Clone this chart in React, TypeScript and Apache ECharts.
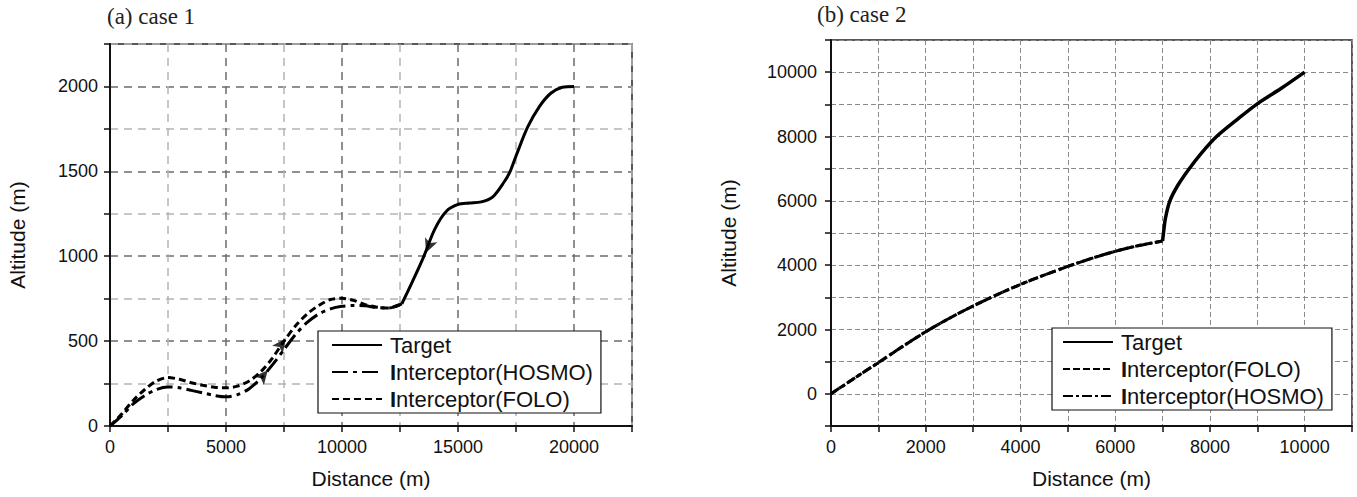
import React, { useEffect, useRef } from 'react';
import * as echarts from 'echarts';

// ---------- Data: (a) case 1 ----------
const targetA: number[][] = [
  [12580, 720], [13000, 840], [13500, 990], [14000, 1160], [14500, 1265], [15000, 1305],
  [15500, 1313], [16000, 1320], [16500, 1350], [17000, 1440], [17250, 1500], [17500, 1590],
  [18000, 1760], [18500, 1880], [19000, 1960], [19500, 1995], [20000, 2000],
];
const hosmoA: number[][] = [
  [0, 0], [500, 60], [1000, 130], [1500, 180], [2000, 215], [2500, 230], [3000, 225],
  [3500, 210], [4000, 195], [4500, 180], [5000, 172], [5500, 185], [6000, 220], [6500, 280],
  [7000, 360], [7500, 450], [8000, 540], [8500, 610], [9000, 660], [9500, 690], [10000, 705],
  [10500, 710], [11000, 708], [11500, 698], [12000, 695], [12580, 720],
];
const foloA: number[][] = [
  [0, 0], [500, 70], [1000, 150], [1500, 215], [2000, 265], [2500, 285], [3000, 275],
  [3500, 255], [4000, 240], [4500, 228], [5000, 225], [5500, 235], [6000, 265], [6500, 320],
  [7000, 400], [7500, 500], [8000, 590], [8500, 660], [9000, 710], [9500, 745], [10000, 752],
  [10500, 740], [11000, 715], [11500, 700], [12000, 695], [12580, 720],
];
// arrow heads: [x, y, rotation (deg, ccw)]
const arrowsA: number[][] = [
  [13620, 1020, 158],
  [6800, 328, -40],
  [7580, 515, -37],
];

// ---------- Data: (b) case 2 ----------
const targetB: number[][] = [
  [7000, 4750], [7020, 5000], [7060, 5450], [7155, 6000], [7330, 6500], [7563, 7000],
  [7830, 7500], [8141, 8000], [8560, 8510], [8986, 9000], [9500, 9490], [10000, 10000],
];
const foloB: number[][] = [
  [0, 0], [500, 490], [1000, 970], [1500, 1460], [2000, 1930], [2500, 2350], [3000, 2730],
  [3500, 3080], [4000, 3400], [4500, 3690], [5000, 3960], [5500, 4210], [6000, 4430],
  [6500, 4610], [7000, 4750],
];
const hosmoB: number[][] = [
  [0, 0], [500, 490], [1000, 970], [1500, 1460], [2000, 1930], [2500, 2350], [3000, 2730],
  [3500, 3080], [4000, 3400], [4500, 3690], [5000, 3960], [5500, 4210], [6000, 4430],
  [6500, 4610], [7000, 4750],
];

const legendA = ['a:Target', 'a:Interceptor(HOSMO)', 'a:Interceptor(FOLO)'];
const legendB = ['b:Target', 'b:Interceptor(FOLO)', 'b:Interceptor(HOSMO)'];

const SANS = "'Liberation Sans', Arial, sans-serif";
const SERIF = "'Liberation Serif', 'Times New Roman', serif";
const INK = '#111';

function legendFormatter(name: string) {
  const n = name.slice(2);
  if (n.startsWith('Interceptor')) return '{b|I}{n|' + n.slice(1) + '}';
  return '{n|' + n + '}';
}

const legendText = {
  fontSize: 22,
  fontFamily: SANS,
  color: INK,
  lineHeight: 24,
  padding: [0, 0, 0, 3],
  rich: {
    b: { fontSize: 22, fontFamily: SANS, color: INK, fontWeight: 'bold', lineHeight: 24 },
    n: { fontSize: 22, fontFamily: SANS, color: INK, lineHeight: 24 },
  },
};

function line(name: string, data: number[][], idx: number, type: any, width = 3) {
  return {
    type: 'line',
    name,
    xAxisIndex: idx,
    yAxisIndex: idx,
    data,
    symbol: 'none',
    showSymbol: false,
    smooth: 0.3,
    silent: true,
    lineStyle: { color: '#000', width, type },
    itemStyle: { color: '#000' },
    z: 3,
  };
}

const axisLineStyle = { show: true, onZero: false, lineStyle: { color: INK, width: 2 } };
const tickStyle = { show: true, inside: false, length: 6, lineStyle: { color: INK, width: 1.5 } };

const legendBase = {
  orient: 'vertical',
  itemWidth: 50, itemHeight: 14, itemGap: 3,
  borderColor: INK, borderWidth: 1.2, backgroundColor: '#fff',
  selectedMode: false, formatter: legendFormatter, textStyle: legendText,
  itemStyle: { color: 'rgba(0,0,0,0)', borderColor: 'rgba(0,0,0,0)', borderWidth: 0, opacity: 0 },
};

function buildOption(): any {
  return {
    animation: false,
    backgroundColor: '#fff',
    title: [
      { text: '(a) case 1', left: 107, top: 5, padding: 0, textStyle: { fontFamily: SERIF, fontSize: 23, fontWeight: 'normal', color: '#222' } },
      { text: '(b) case 2', left: 817, top: 3, padding: 0, textStyle: { fontFamily: SERIF, fontSize: 23, fontWeight: 'normal', color: '#222' } },
    ],
    grid: [
      { left: 110, top: 44, width: 522, height: 382, show: true, borderColor: '#222', borderWidth: 1.5, backgroundColor: 'transparent', containLabel: false, outerBoundsMode: 'none' },
      { left: 831, top: 40, width: 521, height: 386, show: true, borderColor: '#222', borderWidth: 1.5, backgroundColor: 'transparent', containLabel: false, outerBoundsMode: 'none' },
    ],
    xAxis: [
      {
        gridIndex: 0, type: 'value', min: 0, max: 22500, interval: 2500,
        axisLine: axisLineStyle, axisTick: tickStyle,
        axisLabel: { formatter: (v: number) => (v % 5000 === 0 && v <= 20000 ? String(v) : ''), fontSize: 18, color: INK, fontFamily: SANS, margin: 12 },
        splitLine: { show: true, lineStyle: { color: ['#6c6c6c', '#b4b4b4'], type: [8, 6], width: 1.5 } },
        name: 'Distance (m)', nameLocation: 'middle', nameGap: 42,
        nameTextStyle: { fontSize: 21, fontFamily: SANS, color: INK },
      },
      {
        gridIndex: 1, type: 'value', min: 0, max: 11000, interval: 1000,
        axisLine: axisLineStyle, axisTick: tickStyle,
        axisLabel: { formatter: (v: number) => (v % 2000 === 0 && v <= 10000 ? String(v) : ''), fontSize: 18, color: INK, fontFamily: SANS, margin: 12 },
        splitLine: { show: true, lineStyle: { color: '#8a8a8a', type: [5, 3], width: 1 } },
        name: 'Distance (m)', nameLocation: 'middle', nameGap: 42,
        nameTextStyle: { fontSize: 21, fontFamily: SANS, color: INK },
      },
    ],
    yAxis: [
      {
        gridIndex: 0, type: 'value', min: 0, max: 2250, interval: 250,
        axisLine: axisLineStyle, axisTick: tickStyle,
        axisLabel: { formatter: (v: number) => (v % 500 === 0 && v <= 2000 ? String(v) : ''), fontSize: 18, color: INK, fontFamily: SANS, margin: 12 },
        splitLine: { show: true, lineStyle: { color: ['#6c6c6c', '#b4b4b4'], type: [8, 6], width: 1.5 } },
        name: 'Altitude (m)', nameLocation: 'middle', nameGap: 82,
        nameTextStyle: { fontSize: 21, fontFamily: SANS, color: INK },
      },
      {
        gridIndex: 1, type: 'value', min: -1000, max: 11000, interval: 1000,
        axisLine: axisLineStyle, axisTick: tickStyle,
        axisLabel: { formatter: (v: number) => (v >= 0 && v % 2000 === 0 && v <= 10000 ? String(v) : ''), fontSize: 18, color: INK, fontFamily: SANS, margin: 14 },
        splitLine: { show: true, lineStyle: { color: '#8a8a8a', type: [5, 3], width: 1 } },
        name: 'Altitude (m)', nameLocation: 'middle', nameGap: 92,
        nameTextStyle: { fontSize: 21, fontFamily: SANS, color: INK },
      },
    ],
    legend: [
      { ...legendBase, data: legendA, left: 318, top: 331, padding: [2, 8, 2, 13] },
      { ...legendBase, data: legendB, left: 1052, top: 328, padding: [2, 8, 2, 10] },
    ],
    series: [
      line(legendA[0], targetA, 0, 'solid', 3),
      line(legendA[1], hosmoA, 0, [16, 5, 4, 5], 3),
      line(legendA[2], foloA, 0, [7, 4], 3),
      {
        type: 'scatter', xAxisIndex: 0, yAxisIndex: 0, silent: true, z: 4,
        symbol: 'arrow', symbolSize: [10, 14],
        itemStyle: { color: '#000' },
        data: arrowsA.map((a) => ({ value: [a[0], a[1]], symbolRotate: a[2] })),
      },
      line(legendB[0], targetB, 1, 'solid', 3.5),
      line(legendB[1], foloB, 1, [7, 3], 3),
      line(legendB[2], hosmoB, 1, [10, 3, 3, 3], 3),
    ],
  };
}

export default function App() {
  const ref = useRef<HTMLDivElement>(null);
  useEffect(() => {
    document.body.style.margin = '0';
    const chart = echarts.init(ref.current as HTMLDivElement, null, { renderer: 'svg' });
    chart.setOption(buildOption());
    return () => chart.dispose();
  }, []);
  return (
    <div
      ref={ref}
      style={{ position: 'absolute', left: 0, top: 0, width: 1357, height: 497, background: '#fff' }}
    />
  );
}
